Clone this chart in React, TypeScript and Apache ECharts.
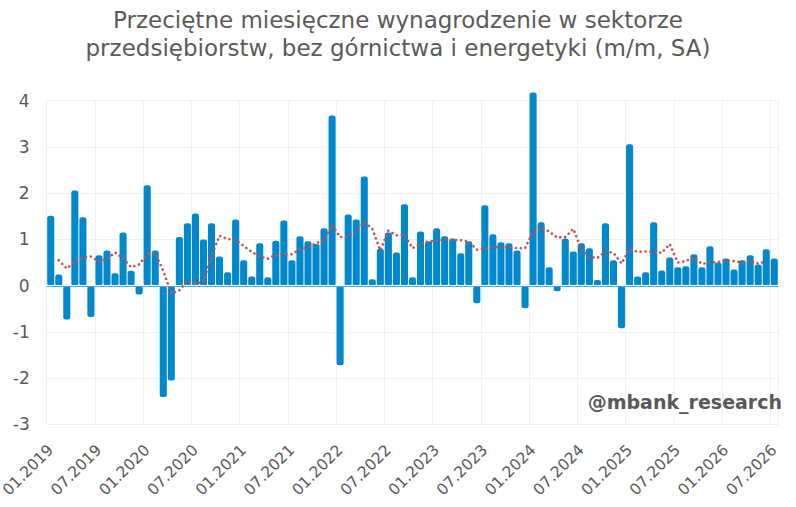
import React, { useEffect, useRef } from "react";
import * as echarts from "echarts";

const FONT = "DejaVu Sans";

const startYear = 2019;
const monthCount = 91;
const categories: string[] = [];
for (let i = 0; i < monthCount; i++) {
  const y = startYear + Math.floor(i / 12);
  const m = (i % 12) + 1;
  categories.push((m < 10 ? "0" + m : "" + m) + "." + y);
}

const barValues = [
  1.51, 0.24, -0.73, 2.06, 1.48, -0.68, 0.66, 0.76, 0.27, 1.15, 0.32, -0.19,
  2.17, 0.76, -2.41, -2.05, 1.05, 1.35, 1.56, 1.0, 1.35, 0.63, 0.29, 1.43,
  0.55, 0.2, 0.92, 0.18, 0.97, 1.41, 0.55, 1.07, 0.96, 0.9, 1.24, 3.68,
  -1.72, 1.54, 1.43, 2.36, 0.14, 0.8, 1.15, 0.72, 1.76, 0.18, 1.17, 0.96,
  1.24, 1.07, 1.02, 0.7, 0.96, -0.38, 1.74, 1.11, 0.94, 0.92, 0.76, -0.49,
  4.18, 1.37, 0.4, -0.12, 1.02, 0.74, 0.92, 0.81, 0.12, 1.35, 0.55, -0.92,
  3.06, 0.2, 0.29, 1.37, 0.33, 0.61, 0.4, 0.42, 0.68, 0.4, 0.85, 0.5,
  0.59, 0.35, 0.55, 0.66, 0.46, 0.79, 0.59,
];

const trendValues: (number | null)[] = [
  null, 0.55, 0.37, 0.52, 0.61, 0.63, 0.52, 0.57, 0.72, 0.59, 0.4, 0.46,
  0.68, 0.7, 0.32, -0.17, -0.1, 0.1, 0.05, 0.08, 0.65, 1.08, 1.01, 0.99,
  0.86, 0.73, 0.63, 0.58, 0.67, 0.68, 0.68, 0.79, 0.83, 0.92, 0.98, 1.31,
  1.05, 1.07, 1.17, 1.37, 1.23, 0.76, 1.19, 1.09, 1.1, 0.81, 0.9, 0.96,
  0.97, 1.0, 0.99, 0.98, 0.96, 0.78, 0.8, 0.83, 0.83, 0.84, 0.81, 0.81,
  1.17, 1.26, 1.17, 1.04, 1.05, 1.23, 0.78, 0.62, 0.6, 0.74, 0.71, 0.48,
  0.79, 0.73, 0.74, 0.74, 0.71, 0.9, 0.5, 0.53, 0.61, 0.47, 0.5, 0.51,
  0.55, 0.53, 0.5, 0.53, 0.48, 0.52, null,
];

const yMin = -3;
const yMax = 4;
const yStep = 1;

const titleText =
  "Przeciętne miesięczne wynagrodzenie w sektorze\nprzedsiębiorstw, bez górnictwa i energetyki (m/m, SA)";
const watermark = "@mbank_research";

export default function App() {
  const ref = useRef<HTMLDivElement>(null);

  useEffect(() => {
    if (!ref.current) return;
    const chart = echarts.init(ref.current, undefined, { renderer: "svg" });
    chart.setOption({
      animation: false,
      backgroundColor: "#ffffff",
      textStyle: { fontFamily: FONT },
      title: {
        text: titleText,
        left: "center",
        top: 1,
        textStyle: {
          fontFamily: FONT,
          fontSize: 23,
          fontWeight: "normal",
          color: "#5a5a5a",
          lineHeight: 28,
        },
      },
      grid: {
        left: 46.7,
        right: 17.7,
        top: 100.7,
        bottom: 82.6,
        containLabel: false,
        outerBoundsMode: "none",
      },
      xAxis: {
        type: "category",
        data: categories,
        boundaryGap: true,
        axisLine: { show: false, onZero: false },
        axisTick: { show: false },
        axisLabel: {
          interval: 5,
          rotate: 45,
          margin: 23,
          fontSize: 15.5,
          color: "#595959",
          fontFamily: FONT,
        },
        splitLine: {
          show: true,
          interval: 5,
          lineStyle: { color: "#efefef", width: 1 },
        },
      },
      yAxis: {
        type: "value",
        min: yMin,
        max: yMax,
        interval: yStep,
        axisLine: { show: false },
        axisTick: { show: false },
        axisLabel: {
          fontSize: 17,
          color: "#595959",
          margin: 17,
          fontFamily: FONT,
        },
        splitLine: { lineStyle: { color: "#efefef", width: 1 } },
      },
      series: [
        {
          type: "bar",
          data: barValues,
          barCategoryGap: "12%",
          clip: false,
          itemStyle: { color: "#0088cc", borderRadius: 2.5 },
          markLine: {
            silent: true,
            symbol: "none",
            label: { show: false },
            animation: false,
            data: [
              { yAxis: 0.012, lineStyle: { color: "#ffffff", width: 1.2, type: "solid" } },
              { yAxis: -0.012, lineStyle: { color: "#4aa8e0", width: 1, type: "solid" } },
            ],
          },
        },
        {
          type: "line",
          data: trendValues,
          symbol: "none",
          connectNulls: false,
          z: 5,
          lineStyle: {
            color: "#c9504d",
            width: 2.6,
            type: [0.1, 4.8],
            cap: "round",
          },
        },
      ],
      graphic: [
        {
          type: "text",
          right: 14,
          top: 392,
          z: 10,
          style: {
            text: watermark,
            fontFamily: FONT,
            fontSize: 19,
            fontWeight: "bold",
            fill: "#595959",
          },
        },
      ],
    });
    return () => chart.dispose();
  }, []);

  return (
    <div
      ref={ref}
      style={{ position: "fixed", left: 0, top: 0, width: 796, height: 507 }}
    />
  );
}
